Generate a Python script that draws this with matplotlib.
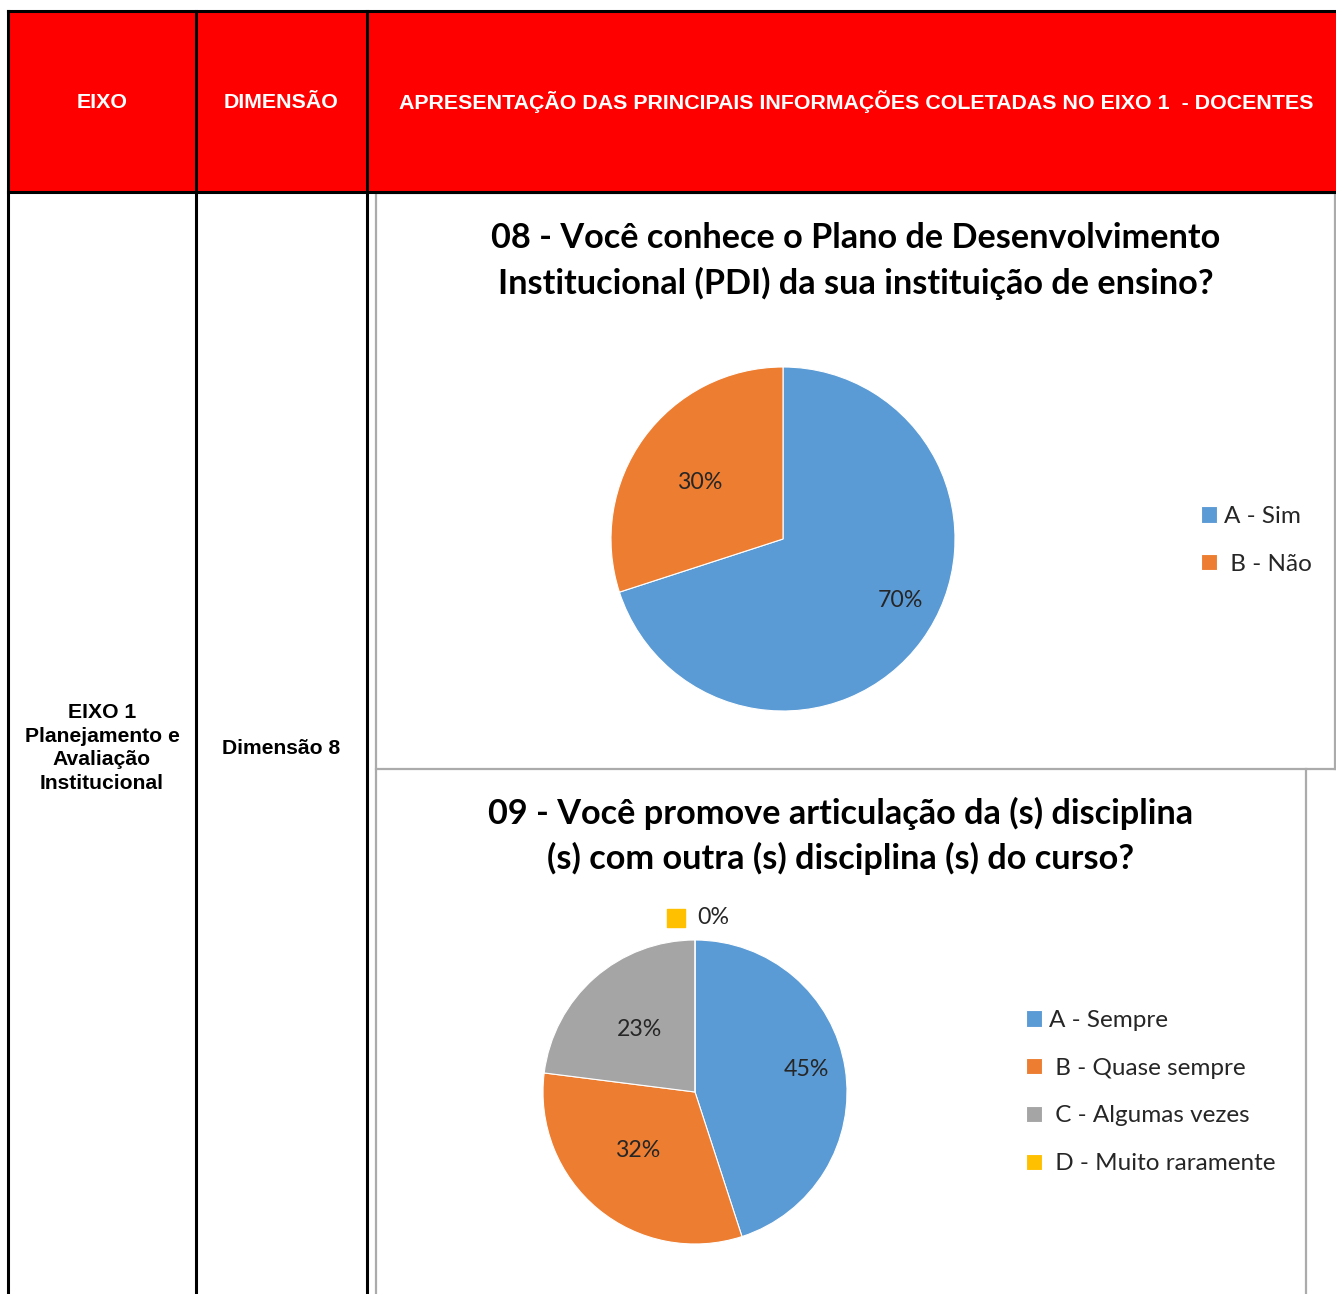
import matplotlib
matplotlib.use("Agg")
import matplotlib.pyplot as plt
from matplotlib.patches import Rectangle

W, H = 1336, 1294

# header texts
HEADERS = ["EIXO", "DIMENSÃO",
           "APRESENTAÇÃO DAS PRINCIPAIS INFORMAÇÕES COLETADAS NO EIXO 1  - DOCENTES"]
EIXO_TEXT = "EIXO 1\nPlanejamento e\nAvaliação\nInstitucional"
DIM_TEXT = "Dimensão 8"

# chart 08
Q8_TITLE = "08 - Você conhece o Plano de Desenvolvimento\nInstitucional (PDI) da sua instituição de ensino?"
Q8_LABELS = ["A - Sim", " B - Não"]
Q8_VALUES = [70, 30]

# chart 09
Q9_TITLE = "09 - Você promove articulação da (s) disciplina\n(s) com outra (s) disciplina (s) do curso?"
Q9_LABELS = ["A - Sempre", " B - Quase sempre", " C - Algumas vezes", " D - Muito raramente"]
Q9_VALUES = [45, 32, 23, 0]

COLORS = ["#5B9BD5", "#ED7D31", "#A5A5A5", "#FFC000"]

fig = plt.figure(figsize=(W / 100, H / 100), dpi=100)
ax = fig.add_axes([0, 0, 1, 1])
ax.set_xlim(0, W)
ax.set_ylim(H, 0)
ax.axis("off")

# table header
ax.add_patch(Rectangle((8, 11), W - 8, 181, color="#FF0000", zorder=1))
hfont = dict(family="Liberation Sans", weight="bold", color="white", fontsize=15.4,
             ha="center", va="center")
for x, t in zip([102, 281, 856], HEADERS):
    ax.text(x, 102, t, **hfont)

# table lines
for x in [8, 196, 367]:
    ax.plot([x, x], [11, H], color="black", lw=2.2, zorder=3)
for y in [11, 192]:
    ax.plot([8, W], [y, y], color="black", lw=2.2, zorder=3)

# chart frames
gray = "#ABABAB"
ax.plot([376, 376], [193, H], color=gray, lw=1.6)
ax.plot([376, W], [193, 193], color=gray, lw=1.6)
ax.plot([1335, 1335], [193, 769], color=gray, lw=1.6)
ax.plot([376, W], [769, 769], color=gray, lw=1.6)
ax.plot([1306, 1306], [769, H], color=gray, lw=1.6)

bfont = dict(family="Liberation Sans", weight="bold", color="black", fontsize=15.2,
             ha="center", va="center")
ax.text(102, 748, EIXO_TEXT, linespacing=1.3, **bfont)
ax.text(281, 748, DIM_TEXT, **bfont)

tfont = dict(family="Lato", weight="bold", fontsize=24.7, ha="center", va="center",
             linespacing=1.45)
ax.text(856, 261, Q8_TITLE, **tfont)
ax.text(841, 836, Q9_TITLE, **tfont)


def pie_axes(cx, cy, r):
    return fig.add_axes([(cx - r) / W, 1 - (cy + r) / H, 2 * r / W, 2 * r / H])


def draw_pie(pax, values, labels, colors, label_pos, legend_xy):
    wedges, _, autotexts = pax.pie(values, colors=colors, startangle=90, counterclock=False,
                                   autopct="%d%%", radius=1,
                                   wedgeprops=dict(edgecolor="white", linewidth=0.8),
                                   textprops=dict(family="Lato", fontsize=16.7, color="#262626"))
    pax.set_xlim(-1, 1)
    pax.set_ylim(-1, 1)
    pax.set_aspect("equal")
    pax.axis("off")
    for t, p in zip(autotexts, label_pos):
        t.set_position(p)
    leg = pax.legend(wedges, labels, loc="upper left", bbox_to_anchor=legend_xy,
                     bbox_transform=fig.transFigure, frameon=False,
                     prop=dict(family="Lato", size=17.5), handlelength=0.65,
                     handleheight=0.65, handletextpad=0.3, labelspacing=1.1,
                     borderpad=0, borderaxespad=0)
    for txt in leg.get_texts():
        txt.set_color("#262626")
    return autotexts


pa = pie_axes(783, 539, 172)
draw_pie(pa, Q8_VALUES, Q8_LABELS, COLORS[:2],
         [(0.68, -0.355), (-0.483, 0.326)], (1201 / W, 1 - 506 / H))

pb = pie_axes(695, 1092, 152)
at = draw_pie(pb, Q9_VALUES, Q9_LABELS, COLORS,
              [(0.73, 0.151), (-0.375, -0.388), (-0.362, 0.414), (0.118, 1.145)],
              (1026 / W, 1 - 1010 / H))
# 0% label carries its legend key
pb.scatter([-0.125], [1.145], marker="s", s=150, color=COLORS[3], clip_on=False)

fig.savefig("out.png", dpi=100)
